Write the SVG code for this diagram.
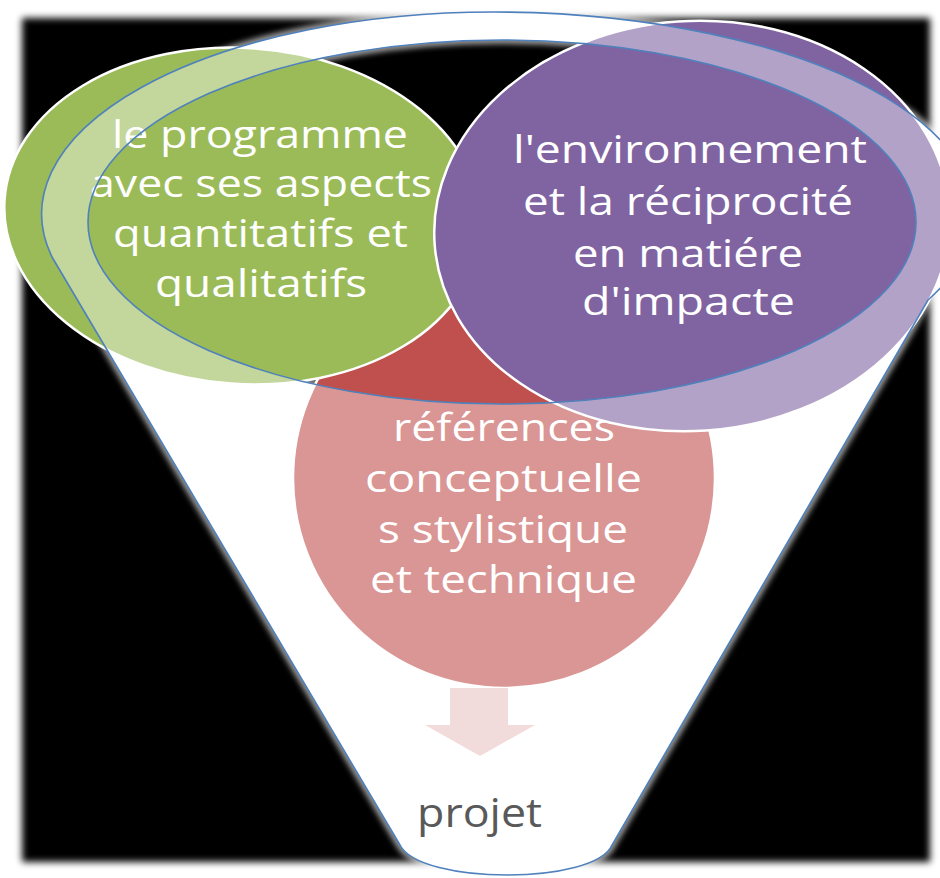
<svg xmlns="http://www.w3.org/2000/svg" width="940" height="878" viewBox="0 0 940 878">
<defs>
<filter id="soft" x="-5%" y="-5%" width="110%" height="110%"><feGaussianBlur stdDeviation="3.5"/></filter>
<filter id="glow" x="-10%" y="-10%" width="120%" height="120%"><feGaussianBlur stdDeviation="3"/></filter>
<path id="funnel" d="M 52,257 A 452 202 0 0 1 494,12 A 480 202 0 0 1 928,300 L 612,845 C 595,885 420,885 400,845 Z M 88,222 A 414 182 0 1 0 916,222 A 414 182 0 1 0 88,222 Z"/>
</defs>
<style>
.lbl{font-family:"Open Sans","Noto Sans","DejaVu Sans",sans-serif;font-size:38px;fill:#fff;text-anchor:middle}
.node{stroke:#fff;stroke-width:2.5}
.out{font-family:"Open Sans","Noto Sans","DejaVu Sans",sans-serif;font-size:41px;fill:#595959;text-anchor:middle}
</style>
<rect width="940" height="878" fill="#fff"/>
<rect x="22" y="18" width="908" height="844" fill="#000" filter="url(#soft)"/>
<g id="funnel-base">
<use href="#funnel" fill="none" stroke="#fff" stroke-width="6" filter="url(#glow)" opacity="0.8"/>
<use href="#funnel" fill="#fff" fill-rule="evenodd"/>
</g>
<g id="node-references">
<ellipse cx="504" cy="478" rx="211" ry="210" fill="#C0504D" class="node"/>
<text class="lbl" x="504" y="441" textLength="222" lengthAdjust="spacingAndGlyphs">références</text>
<text class="lbl" x="503.5" y="492" textLength="277" lengthAdjust="spacingAndGlyphs">conceptuelle</text>
<text class="lbl" x="503" y="543" textLength="250" lengthAdjust="spacingAndGlyphs">s stylistique</text>
<text class="lbl" x="503.5" y="593" textLength="267" lengthAdjust="spacingAndGlyphs">et technique</text>
</g>
<g id="node-programme">
<ellipse cx="243" cy="216" rx="239" ry="168" transform="rotate(4 243 216)" fill="#9BBB59" class="node"/>
<text class="lbl" x="260" y="148" textLength="296" lengthAdjust="spacingAndGlyphs">le programme</text>
<text class="lbl" x="261" y="197" textLength="342" lengthAdjust="spacingAndGlyphs">avec ses aspects</text>
<text class="lbl" x="260.5" y="247" textLength="295" lengthAdjust="spacingAndGlyphs">quantitatifs et</text>
<text class="lbl" x="261" y="297" textLength="212" lengthAdjust="spacingAndGlyphs">qualitatifs</text>
</g>
<g id="node-environnement">
<ellipse cx="692" cy="226" rx="258" ry="205" transform="rotate(-4 692 226)" fill="#8064A2" class="node"/>
<text class="lbl" x="690" y="163" textLength="354" lengthAdjust="spacingAndGlyphs">l'environnement</text>
<text class="lbl" x="688" y="215" textLength="330" lengthAdjust="spacingAndGlyphs">et la réciprocité</text>
<text class="lbl" x="688" y="267" textLength="230" lengthAdjust="spacingAndGlyphs">en matiére</text>
<text class="lbl" x="688.5" y="315" textLength="213" lengthAdjust="spacingAndGlyphs">d'impacte</text>
</g>
<g id="funnel-overlay">
<use href="#funnel" fill="#fff" fill-opacity="0.4" fill-rule="evenodd" stroke="#4F81BD" stroke-width="1.6"/>
</g>
<g id="connectors">
<polygon points="450,688 508,688 508,725 535,725 480,756 425,725 450,725" fill="#F2DCDB"/>
</g>
<g id="node-projet">
<text class="out" x="479.5" y="827" textLength="125" lengthAdjust="spacingAndGlyphs">projet</text>
</g>
</svg>
